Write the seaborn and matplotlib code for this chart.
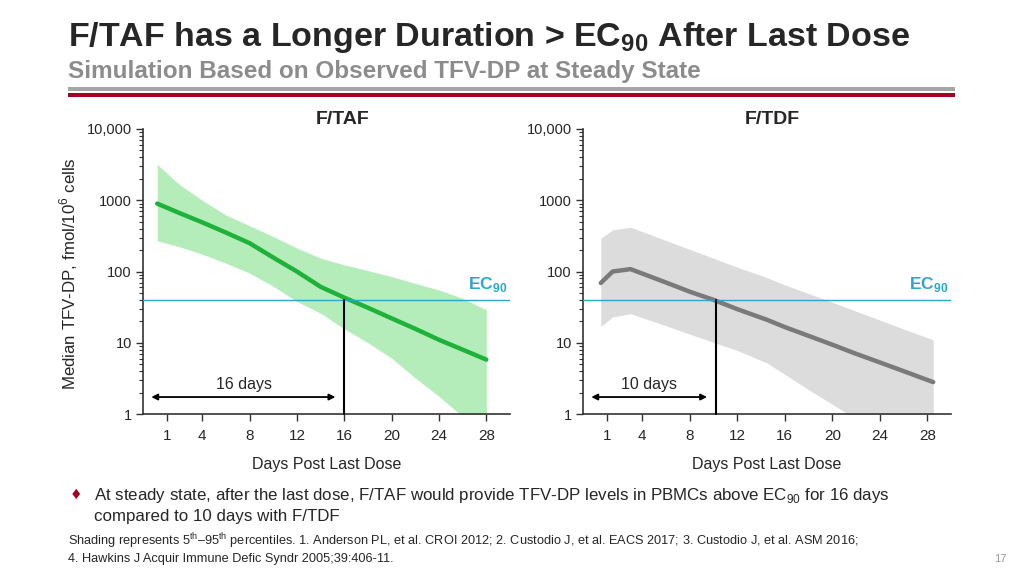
import numpy as np
import seaborn as sns
import matplotlib.pyplot as plt
from matplotlib import font_manager, ticker
from matplotlib.patches import Rectangle

# F/TAF simulation (days post last dose, TFV-DP fmol/10^6 cells)
taf_days = [0.2, 2, 4, 6, 8, 10, 12, 14, 16, 18, 20, 22, 24, 26, 28]
taf_median = [898, 670, 490, 352, 250, 157, 100, 61, 43, 31, 22, 15.7, 11, 8, 5.8]
taf_p95 = [3200, 1700, 1000, 620, 440, 310, 213, 154, 124, 103, 85, 68, 55, 42, 29]
taf_p5 = [270, 224, 175, 131, 95, 62, 38, 26, 15.7, 10, 6.1, 3.2, 1.77, 0.92, 0.41]

# F/TDF simulation
tdf_days = [0.5, 1.5, 3, 6, 8, 10, 12, 14.5, 16, 18, 20, 22, 24, 26, 28.5]
tdf_median = [69, 100, 108, 70, 52, 40, 29.6, 21, 16.6, 12.5, 9.4, 7.0, 5.3, 4.0, 2.8]
tdf_p95 = [293, 384, 418, 272, 204, 153, 115, 82, 65, 49, 37, 27.7, 20.8, 15.6, 11]
tdf_p5 = [17, 23, 25.6, 17.3, 13.2, 10.1, 7.8, 5.2, 3.6, 2.2, 1.37, 0.85, 0.52, 0.32, 0.18]

ec90 = 40
days_above = {"F/TAF": 16, "F/TDF": 10.2}
day_labels = {"F/TAF": "16 days", "F/TDF": "10 days"}

x_ticks = [1, 4, 8, 12, 16, 20, 24, 28]
y_ticks = [1, 10, 100, 1000, 10000]
y_tick_labels = ["1", "10", "100", "1000", "10,000"]

sns.set_style("ticks")
names = {f.name for f in font_manager.fontManager.ttflist}
narrow = "Liberation Sans Narrow" if "Liberation Sans Narrow" in names else "Liberation Sans"
plt.rcParams["font.family"] = ["Liberation Sans", "DejaVu Sans"]
plt.rcParams["mathtext.fontset"] = "custom"
plt.rcParams["mathtext.rm"] = narrow
plt.rcParams["mathtext.bf"] = narrow + ":bold"

green_line = "#1fb23a"
green_fill = "#b4ecba"
gray_line = "#7a7a7a"
gray_fill = "#dcdcdc"
ec_color = "#2aa7cc"
red = "#a50021"

fig = plt.figure(figsize=(10.24, 5.76), dpi=100)
W, H = 1024, 576


def fx(px):
    return px / W


def fy(py):
    return 1 - py / H


ax1 = fig.add_axes([fx(143), fy(414), 367 / W, 285 / H])
ax2 = fig.add_axes([fx(583), fy(414), 368 / W, 285 / H])

panels = [
    (ax1, "F/TAF", taf_days, taf_median, taf_p5, taf_p95, green_line, green_fill),
    (ax2, "F/TDF", tdf_days, tdf_median, tdf_p5, tdf_p95, gray_line, gray_fill),
]

for ax, name, days, med, lo, hi, lc, fc in panels:
    ax.fill_between(days, lo, hi, color=fc, lw=0, zorder=1)
    sns.lineplot(x=days, y=med, ax=ax, color=lc, lw=3.2, zorder=3)
    ax.set_yscale("log")
    ax.set_ylim(1, 10000)
    ax.set_xlim(-1, 30)
    ax.axhline(ec90, color=ec_color, lw=1, zorder=4)
    ax.text(29.8, 49, r"EC$_{\mathbf{90}}$", color=ec_color, fontsize=12.5,
            fontweight="bold", ha="right", va="bottom")
    d = days_above[name]
    ax.plot([d, d], [1, ec90], color="black", lw=1.5, zorder=5, clip_on=False)
    ax.annotate("", xy=(-0.3, 1.73), xytext=(d - 0.75, 1.73),
                arrowprops=dict(arrowstyle="<|-|>", color="black", lw=1.3,
                                mutation_scale=9, shrinkA=0, shrinkB=0))
    ax.text((d - 1) / 2, 2.6, day_labels[name], fontsize=11.5, ha="center", va="center")

    ax.set_yticks(y_ticks)
    ax.set_yticklabels(y_tick_labels)
    ax.yaxis.set_minor_locator(ticker.LogLocator(base=10, subs=np.arange(2, 10)))
    ax.yaxis.set_minor_formatter(ticker.NullFormatter())
    ax.set_xticks(x_ticks)
    ax.tick_params(axis="both", which="major", direction="out", length=5, width=1,
                   color="#333333", labelsize=10.5, pad=3)
    ax.tick_params(axis="x", labelsize=11, pad=6)
    ax.tick_params(axis="y", which="minor", direction="out", length=3, width=0.8, color="#333333")
    for s in ["left", "bottom"]:
        ax.spines[s].set_color("#333333")
        ax.spines[s].set_linewidth(1.2)
    sns.despine(ax=ax)
    ax.set_xlabel("Days Post Last Dose", fontsize=11.5, labelpad=10)
    ax.set_ylabel("")
    ax.patch.set_alpha(0)

fig.text(fx(69), fy(274), r"Median TFV-DP, fmol/10$^6$ cells", fontsize=12.2,
         rotation=90, ha="center", va="center")

fig.text(fx(343), fy(120), "F/TAF", fontsize=14, fontweight="bold", ha="center", va="center")
fig.text(fx(772), fy(120), "F/TDF", fontsize=14, fontweight="bold", ha="center", va="center")

# header
fig.text(fx(68), fy(46), r"F/TAF has a Longer Duration > EC$_{\mathbf{90}}$ After Last Dose",
         family=narrow, fontsize=24.5, fontweight="bold", ha="left", va="baseline")
fig.text(fx(68), fy(78), "Simulation Based on Observed TFV-DP at Steady State",
         family=narrow, fontsize=17.5, fontweight="bold", color="#8c8c8c", ha="left", va="baseline")
fig.add_artist(Rectangle((fx(68), fy(91)), 887 / W, 4 / H, transform=fig.transFigure,
                         color="#a6a6a6", lw=0))
fig.add_artist(Rectangle((fx(68), fy(97)), 887 / W, 4 / H, transform=fig.transFigure,
                         color=red, lw=0))

# bullet and footnotes
fig.text(fx(76), fy(495), "\u2666", family=["DejaVu Sans"], fontsize=10, color=red,
         ha="center", va="center")
fig.text(fx(94), fy(500),
         r"At steady state, after the last dose, F/TAF would provide TFV-DP levels in PBMCs above EC$_{90}$ for 16 days",
         family=narrow, fontsize=12.2, ha="left", va="baseline")
fig.text(fx(94), fy(521), "compared to 10 days with F/TDF",
         family=narrow, fontsize=12.2, ha="left", va="baseline")
fig.text(fx(68), fy(545),
         r"Shading represents 5$^{\rm th}$–95$^{\rm th}$ percentiles. 1. Anderson PL, et al. CROI 2012; 2. Custodio J, et al. EACS 2017; 3. Custodio J, et al. ASM 2016;",
         family=narrow, fontsize=9.2, ha="left", va="baseline")
fig.text(fx(68), fy(562), "4. Hawkins J Acquir Immune Defic Syndr 2005;39:406-11.",
         family=narrow, fontsize=9.2, ha="left", va="baseline")
fig.text(fx(1000), fy(562), "17", fontsize=8, color="#9a9a9a", ha="center", va="baseline")

fig.savefig("out.png", dpi=100)
